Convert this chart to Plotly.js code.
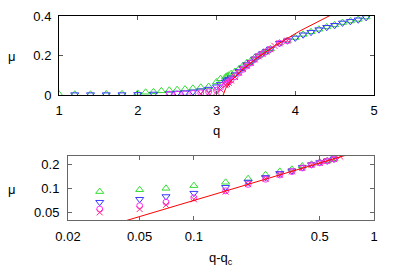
<!DOCTYPE html>
<html>
<head>
<meta charset="utf-8">
<script src="https://cdn.plot.ly/plotly-3.0.1.min.js"></script>
<style>html,body{margin:0;padding:0;background:#fff;}#chart{width:399px;height:279px;}</style>
</head>
<body>
<div id="chart"></div>
<script>
// ---- data ----
var qc = 3.085;           // critical point used for q - q_c
var fitA = 0.33;          // power-law fit amplitude
var fitBeta = 0.67;       // power-law fit exponent

// critical region, shared q - q_c values (lower panel)
var dq = [0.03,0.05,0.07,0.1,0.15,0.2,0.25,0.3,0.35,0.4,0.45,0.5,0.55,0.6];
var dqX = [0.03,0.05,0.07,0.1,0.15,0.2,0.25,0.3,0.35,0.4,0.45,0.5,0.55,0.6,0.65];
var greenMu = [0.091,0.096,0.100,0.108,0.119,0.132,0.148,0.163,0.173,0.190,0.200,0.212,0.222,0.234];
var blueMu  = [0.067,0.073,0.079,0.087,0.103,0.120,0.137,0.154,0.166,0.183,0.198,0.210,0.221,0.233];
var magMu   = [0.055,0.0605,0.067,0.076,0.093,0.112,0.130,0.147,0.162,0.180,0.197,0.209,0.220,0.232];
var crossMu = [0.050,0.055,0.062,0.073,0.091,0.113,0.132,0.148,0.163,0.180,0.196,0.208,0.220,0.232,0.249];

// below the transition (upper panel)
var greenLowQ  = [1.0,1.2,1.4,1.6,1.8,2.0,2.1,2.2,2.3,2.4,2.5,2.6,2.7,2.8,2.9,3.0,3.05];
var greenLowMu = [0.004,0.004,0.004,0.005,0.006,0.008,0.014,0.016,0.021,0.024,0.027,0.030,0.034,0.039,0.043,0.066,0.082];
var blueLowQ   = [1.2,1.4,1.6,1.8,2.0,2.2,2.4,2.5,2.6,2.7,2.8,2.9,3.0,3.05];
var blueLowMu  = [0.002,0.002,0.002,0.002,0.003,0.005,0.007,0.010,0.012,0.016,0.022,0.030,0.042,0.055];
var magLowQ    = [2.4,2.5,2.6,2.7,2.8,2.9,3.0,3.05];
var magLowMu   = [0.004,0.005,0.006,0.008,0.011,0.016,0.024,0.038];
var crossLowQ  = [2.8,2.9,3.0,3.05];
var crossLowMu = [0.006,0.009,0.015,0.028];

// above the critical region (upper panel)
var highQ      = [3.8,3.9,4.0,4.1,4.2,4.3,4.4,4.5,4.6,4.7,4.8,4.9];
var blueHighMu = [0.262,0.275,0.289,0.305,0.318,0.331,0.343,0.353,0.365,0.373,0.381,0.393];
var greenHighMu= [0.263,0.276,0.291,0.307,0.320,0.333,0.345,0.355,0.367,0.375,0.383,0.395];
var magHighQ   = [3.8,3.9];
var magHighMu  = [0.262,0.275];

var xTicksTop = [1,2,3,4,5];
var yTicksTop = [0,0.2,0.4];
var yTickTextTop = ['0','0.2','0.4'];
var xTicksBot = [0.02,0.05,0.1,0.5,1];
var xTickTextBot = ['0.02','0.05','0.1','0.5','1'];
var yTicksBot = [0.05,0.1,0.2];
var yTickTextBot = ['0.05','0.1','0.2'];

// ---- build ----
function shift(a){ return a.map(function(d){ return qc + d; }); }
function fit(x){ return fitA * Math.pow(x, fitBeta); }

var cGreen = '#33dd33', cBlue = '#3a3aff', cMag = '#ff33ff', cCross = '#ff2a80', cRed = '#ff0000';
var mk = function(sym, col, size){ return {symbol: sym, size: size, color: col, line: {color: col, width: 1}}; };

var series = [
  {q: greenLowQ.concat(shift(dq), highQ), mu: greenLowMu.concat(greenMu, greenHighMu), d: dq, dm: greenMu, m: mk('triangle-up-open', cGreen, 7)},
  {q: blueLowQ.concat(shift(dq), highQ), mu: blueLowMu.concat(blueMu, blueHighMu), d: dq, dm: blueMu, m: mk('triangle-down-open', cBlue, 7)},
  {q: magLowQ.concat(shift(dq), magHighQ), mu: magLowMu.concat(magMu, magHighMu), d: dq, dm: magMu, m: mk('circle-open', cMag, 6)},
  {q: crossLowQ.concat(shift(dqX), magHighQ), mu: crossLowMu.concat(crossMu, magHighMu), d: dqX, dm: crossMu, m: mk('x-thin-open', cCross, 6)}
];

var traces = [];
series.forEach(function(s){
  traces.push({x: s.q, y: s.mu, xaxis: 'x', yaxis: 'y', mode: 'markers', marker: s.m, cliponaxis: true, showlegend: false, hoverinfo: 'skip'});
  traces.push({x: s.d, y: s.dm, xaxis: 'x2', yaxis: 'y2', mode: 'markers', marker: s.m, cliponaxis: true, showlegend: false, hoverinfo: 'skip'});
});

// fit lines
var lq = [], lmu = [];
for (var i = 0; i <= 200; i++) { var q = qc + i * (5 - qc) / 200; lq.push(q); lmu.push(fit(q - qc)); }
var lx = [], lxm = [];
for (var j = 0; j <= 100; j++) { var x = Math.pow(10, Math.log10(0.02) + j * (Math.log10(0.7) - Math.log10(0.02)) / 100); lx.push(x); lxm.push(fit(x)); }
traces.push({x: lq, y: lmu, xaxis: 'x', yaxis: 'y', mode: 'lines', line: {color: cRed, width: 1}, showlegend: false, hoverinfo: 'skip'});
traces.push({x: lx, y: lxm, xaxis: 'x2', yaxis: 'y2', mode: 'lines', line: {color: cRed, width: 1}, showlegend: false, hoverinfo: 'skip'});

var W = 399, H = 279;
var font = {family: 'Liberation Sans, Arial, sans-serif', size: 13, color: '#000'};
var axBase = {showgrid: false, zeroline: false, showline: true, mirror: 'ticks', ticks: 'inside', ticklen: 4, tickwidth: 1, tickfont: font, tickmode: 'array'};

var layout = {
  width: W, height: H,
  margin: {l: 0, r: 0, t: 0, b: 0},
  paper_bgcolor: '#fff', plot_bgcolor: '#fff',
  font: font,
  showlegend: false,
  xaxis: Object.assign({}, axBase, {domain: [59/W, 374/W], range: [1, 5], tickvals: xTicksTop, ticktext: xTicksTop.map(String), anchor: 'y', linecolor: '#000', tickcolor: '#555', ticklabelstandoff: 3}),
  yaxis: Object.assign({}, axBase, {domain: [1 - 95/H, 1 - 16/H], range: [0, 0.4], tickvals: yTicksTop, ticktext: yTickTextTop, anchor: 'x', linecolor: '#000', tickcolor: '#555', ticklabelstandoff: 4}),
  xaxis2: Object.assign({}, axBase, {domain: [68/W, 374/W], type: 'log', range: [Math.log10(0.02), 0], tickvals: xTicksBot, ticktext: xTickTextBot, anchor: 'y2', linecolor: '#666', tickcolor: '#666', ticklabelstandoff: 4}),
  yaxis2: Object.assign({}, axBase, {domain: [1 - 220.3/H, 1 - 155.7/H], type: 'log', range: [-1.4, -0.592], tickvals: yTicksBot, ticktext: yTickTextBot, anchor: 'x2', linecolor: '#666', tickcolor: '#666', ticklabelstandoff: 5}),
  annotations: [
    {text: 'μ', xref: 'paper', yref: 'paper', x: 11.5/W, y: 1 - 56/H, showarrow: false, font: font, xanchor: 'center', yanchor: 'middle'},
    {text: 'q', xref: 'paper', yref: 'paper', x: 216.5/W, y: 1 - 130/H, showarrow: false, font: font, xanchor: 'center', yanchor: 'middle'},
    {text: 'μ', xref: 'paper', yref: 'paper', x: 11.5/W, y: 1 - 189.5/H, showarrow: false, font: font, xanchor: 'center', yanchor: 'middle'},
    {text: 'q-q<sub>c</sub>', xref: 'paper', yref: 'paper', x: 221/W, y: 1 - 258/H, showarrow: false, font: font, xanchor: 'center', yanchor: 'middle'}
  ]
};

Plotly.newPlot('chart', traces, layout, {staticPlot: true, displayModeBar: false});
</script>
</body>
</html>
